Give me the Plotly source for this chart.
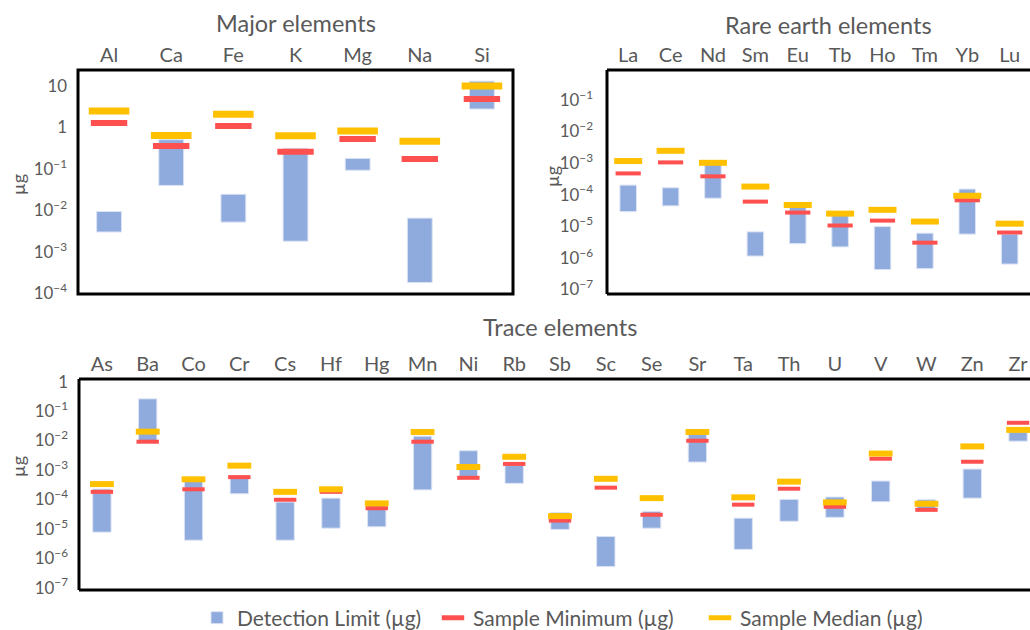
import plotly.graph_objects as go

# ---------------- data ----------------
major_el = ["Al", "Ca", "Fe", "K", "Mg", "Na", "Si"]
major_dl_low = [0.0030, 0.040, 0.0052, 0.0018, 0.093, 0.00018, 2.8]
major_dl_high = [0.0094, 0.51, 0.0245, 0.315, 0.18, 0.0065, 13.2]
major_min = [1.29, 0.36, 1.09, 0.26, 0.53, 0.174, 4.9]
major_med = [2.5, 0.64, 2.1, 0.63, 0.83, 0.47, 10.1]

ree_el = ["La", "Ce", "Nd", "Sm", "Eu", "Tb", "Ho", "Tm", "Yb", "Lu"]
ree_dl_low = [2.9e-5, 4.4e-5, 7.7e-5, 1.13e-6, 2.8e-6, 2.2e-6, 4.2e-7, 4.5e-7, 5.6e-6, 6.3e-7]
ree_dl_high = [2.0e-4, 1.65e-4, 9.3e-4, 6.6e-6, 4.2e-5, 2.2e-5, 9.7e-6, 6.0e-6, 1.5e-4, 5.6e-6]
ree_min = [4.7e-4, 1.05e-3, 3.8e-4, 6.0e-5, 2.7e-5, 1.05e-5, 1.5e-5, 3.0e-6, 6.6e-5, 6.3e-6]
ree_med = [1.16e-3, 2.45e-3, 1.02e-3, 1.8e-4, 4.7e-5, 2.5e-5, 3.3e-5, 1.4e-5, 9.2e-5, 1.2e-5]

trace_el = ["As", "Ba", "Co", "Cr", "Cs", "Hf", "Hg", "Mn", "Ni", "Rb", "Sb",
            "Sc", "Se", "Sr", "Ta", "Th", "U", "V", "W", "Zn", "Zr"]
trace_dl_low = [7.7e-6, 8.7e-3, 4.1e-6, 1.55e-4, 4.1e-6, 1.05e-5, 1.17e-5, 2.1e-4, 5.4e-4, 3.5e-4, 9.5e-6,
                5.2e-7, 1.05e-5, 1.85e-3, 2.0e-6, 1.8e-5, 2.45e-5, 8.3e-5, 4.0e-5, 1.1e-4, 9.5e-3]
trace_dl_high = [2.24e-4, 0.26, 4.2e-4, 5.2e-4, 8.1e-5, 1.1e-4, 6.4e-5, 0.014, 4.5e-3, 1.47e-3, 3.6e-5,
                 5.5e-6, 3.9e-5, 0.0175, 2.3e-5, 1.0e-4, 1.2e-4, 4.2e-4, 9.7e-5, 1.07e-3, 0.0195]
trace_min = [1.8e-4, 9.1e-3, 2.2e-4, 5.7e-4, 9.7e-5, 1.8e-4, 5.0e-5, 9.1e-3, 5.4e-4, 1.6e-3, 1.9e-5,
             2.5e-4, 3.0e-5, 9.8e-3, 6.6e-5, 2.3e-4, 5.6e-5, 2.4e-3, 4.4e-5, 1.9e-3, 0.04]
trace_med = [3.3e-4, 0.020, 4.8e-4, 1.4e-3, 1.8e-4, 2.2e-4, 7.3e-5, 0.0195, 1.26e-3, 2.8e-3, 2.7e-5,
             5.0e-4, 1.1e-4, 0.0195, 1.17e-4, 4.0e-4, 7.9e-5, 3.6e-3, 7.1e-5, 6.3e-3, 0.023]

panel_titles = ["Major elements", "Rare earth elements", "Trace elements"]
legend_names = ["Detection Limit (µg)", "Sample Minimum (µg)", "Sample Median (µg)"]

# ---------------- styles ----------------
BLUE = "#8FAADC"
RED = "#FF5050"
YELLOW = "#FFC000"
GREY = "#595959"
FONT = "Lato"
W, H = 1030, 630

fig = go.Figure()

panels = [
    dict(el=major_el, lo=major_dl_low, hi=major_dl_high, mn=major_min, md=major_med,
         ax="", redw=26, redh=6, yelw=29, yelh=7, barw=0.4),
    dict(el=ree_el, lo=ree_dl_low, hi=ree_dl_high, mn=ree_min, md=ree_med,
         ax="2", redw=18, redh=4, yelw=20, yelh=6, barw=0.39),
    dict(el=trace_el, lo=trace_dl_low, hi=trace_dl_high, mn=trace_min, md=trace_med,
         ax="3", redw=16, redh=4, yelw=17, yelh=6, barw=0.4),
]

for i, p in enumerate(panels):
    xa = "x" + p["ax"]
    ya = "y" + p["ax"]
    fig.add_trace(go.Bar(
        x=p["el"], y=[h - l for h, l in zip(p["hi"], p["lo"])], base=p["lo"],
        width=p["barw"], marker=dict(color=BLUE, line=dict(color="#DCE4F4", width=1)),
        name=legend_names[0], legend="legend", showlegend=(i == 0),
        xaxis=xa, yaxis=ya))
    fig.add_trace(go.Scatter(
        x=p["el"], y=p["mn"], mode="markers",
        marker=dict(symbol="line-ew", size=p["redw"], color=RED,
                    line=dict(color=RED, width=p["redh"])),
        name=legend_names[1], legend="legend2", showlegend=(i == 0),
        xaxis=xa, yaxis=ya))
    fig.add_trace(go.Scatter(
        x=p["el"], y=p["md"], mode="markers",
        marker=dict(symbol="line-ew", size=p["yelw"], color=YELLOW,
                    line=dict(color=YELLOW, width=p["yelh"])),
        name=legend_names[2], legend="legend3", showlegend=(i == 0),
        xaxis=xa, yaxis=ya))


def px_x(v):
    return v / W


def px_y(v):
    return 1 - v / H


xcommon = dict(type="category", side="top", showgrid=False, zeroline=False, showline=False,
               ticks="", tickfont=dict(family=FONT, size=20, color=GREY), fixedrange=True,
               ticklabelstandoff=3)
ycommon = dict(type="log", dtick=1, exponentformat="power", showgrid=False, zeroline=False,
               showline=False, ticks="", tickfont=dict(family=FONT, size=13.5, color=GREY),
               fixedrange=True, ticklabelstandoff=10)

fig.update_layout(
    xaxis=dict(xcommon, domain=[px_x(78), px_x(513)], anchor="y", range=[-0.5, 6.5]),
    yaxis=dict(ycommon, domain=[px_y(294), px_y(70)], anchor="x", range=[-4.02, 1.39]),
    xaxis2=dict(xcommon, domain=[px_x(607), 1.0], anchor="y2", range=[-0.5, 9.48]),
    yaxis2=dict(ycommon, domain=[px_y(294), px_y(70)], anchor="x2", range=[-7.15, -0.05],
                ticklabelstandoff=13),
    xaxis3=dict(xcommon, domain=[px_x(79), 1.0], anchor="y3", range=[-0.5, 20.26]),
    yaxis3=dict(ycommon, domain=[px_y(590), px_y(379)], anchor="x3", range=[-7.08, 0.09]),
)

# frames
shapes = []
shapes.append(dict(type="rect", xref="x domain", yref="y domain", x0=0, x1=1, y0=0, y1=1,
                   line=dict(color="black", width=3)))
for ax in ["2", "3"]:
    for (x0, x1, y0, y1) in [(0, 0, 0, 1), (0, 1, 1, 1), (0, 1, 0, 0)]:
        shapes.append(dict(type="line", xref="x%s domain" % ax, yref="y%s domain" % ax,
                           x0=x0, x1=x1, y0=y0, y1=y1, line=dict(color="black", width=3)))

annotations = []
for title, (cx, cy) in zip(panel_titles, [(296, 23), (828, 25), (560, 327)]):
    annotations.append(dict(text=title, x=px_x(cx), y=px_y(cy), xref="paper", yref="paper",
                            showarrow=False, xanchor="center", yanchor="middle",
                            font=dict(family=FONT, size=23.5, color=GREY)))
for (cx, cy) in [(18, 185), (552, 177), (18, 467)]:
    annotations.append(dict(text="µg", x=px_x(cx), y=px_y(cy), xref="paper", yref="paper",
                            showarrow=False, xanchor="center", yanchor="middle", textangle=-90,
                            font=dict(family=FONT, size=18, color=GREY)))

leg_common = dict(orientation="h", xanchor="left", y=px_y(618), yanchor="middle",
                  font=dict(family=FONT, size=21, color=GREY), bgcolor="rgba(0,0,0,0)",
                  itemwidth=30)

fig.update_layout(
    width=W, height=H, margin=dict(l=0, r=0, t=0, b=0, autoexpand=False),
    paper_bgcolor="white", plot_bgcolor="white",
    shapes=shapes, annotations=annotations,
    barmode="overlay",
    legend=dict(leg_common, x=px_x(197)),
    legend2=dict(leg_common, x=px_x(433)),
    legend3=dict(leg_common, x=px_x(700)),
)

fig.write_html("out.html")
